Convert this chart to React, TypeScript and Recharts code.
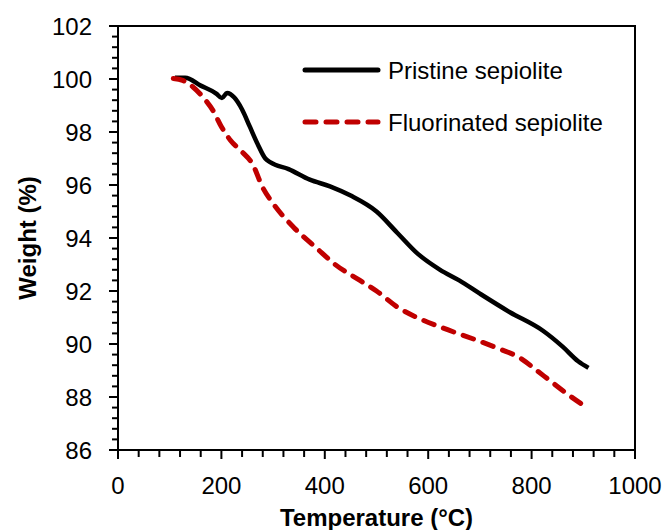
import * as React from 'react';
import { LineChart, Line, XAxis, YAxis, ReferenceArea } from 'recharts';

// TGA curves
const pristineTemp = [110, 130, 160, 190, 201, 211, 225, 240, 255, 270, 285, 295, 330, 371, 410, 450, 500, 540, 580, 623, 660, 700, 758, 822, 860, 890, 910];
const pristineWeight = [100.05, 100.05, 99.75, 99.45, 99.28, 99.47, 99.3, 98.85, 98.2, 97.55, 97.0, 96.85, 96.6, 96.2, 95.95, 95.6, 95.0, 94.2, 93.4, 92.8, 92.4, 91.9, 91.2, 90.5, 89.9, 89.35, 89.1];

const fluoroTemp = [107, 125, 145, 165, 184, 200, 217, 240, 260, 280, 300, 340, 385, 420, 468, 500, 540, 590, 629, 700, 740, 778, 810, 830, 870, 907];
const fluoroWeight = [100.02, 99.95, 99.7, 99.3, 98.8, 98.2, 97.7, 97.25, 96.8, 95.9, 95.3, 94.4, 93.6, 93.0, 92.4, 92.0, 91.4, 90.9, 90.6, 90.1, 89.8, 89.47, 89.0, 88.7, 88.1, 87.6];

const xMajor = [0, 200, 400, 600, 800, 1000];
const yMajor = [86, 88, 90, 92, 94, 96, 98, 100, 102];

const pristine = pristineTemp.map((t, i) => ({ t, w: pristineWeight[i] }));
const fluoro = fluoroTemp.map((t, i) => ({ t, w: fluoroWeight[i] }));

// minor ticks every 40 degC and every 0.4 %
const xTicks: number[] = [];
for (let i = 0; i <= 25; i++) xTicks.push(i * 40);
const yTicks: number[] = [];
for (let i = 0; i <= 40; i++) yTicks.push(Math.round((86 + i * 0.4) * 10) / 10);

const FONT = '"Liberation Sans", Arial, sans-serif';

function XTick(props: any) {
  const { x, y, payload } = props;
  const major = xMajor.includes(payload.value);
  return (
    <g>
      <line x1={x} x2={x} y1={y} y2={y + (major ? 9 : 7)} stroke="#000" strokeWidth={2} />
      {major && (
        <text x={x} y={y + 44} textAnchor="middle" fontSize={24} fontFamily={FONT} fill="#000">
          {payload.value}
        </text>
      )}
    </g>
  );
}

function YTick(props: any) {
  const { x, y, payload } = props;
  const major = yMajor.includes(payload.value);
  return (
    <g>
      <line x1={x - (major ? 9 : 6)} x2={x} y1={y} y2={y} stroke="#000" strokeWidth={2} />
      {major && (
        <text x={x - 26} y={y + 9} textAnchor="end" fontSize={24} fontFamily={FONT} fill="#000">
          {payload.value}
        </text>
      )}
    </g>
  );
}

export default function App() {
  return (
    <div style={{ position: 'absolute', left: 0, top: 0, width: 664, height: 530, background: '#fff' }}>
      <LineChart width={664} height={530} margin={{ top: 26, right: 29, bottom: 0, left: 0 }}>
        <ReferenceArea x1={0} x2={1000} y1={86} y2={102} fill="none" stroke="#000" strokeWidth={2} />
        <XAxis
          dataKey="t"
          type="number"
          domain={[0, 1000]}
          ticks={xTicks}
          interval={0}
          height={80}
          tickSize={0}
          tickMargin={0}
          tickLine={false}
          tick={<XTick />}
          axisLine={{ stroke: '#000', strokeWidth: 2 }}
          allowDuplicatedCategory={false}
          label={{ value: 'Temperature (°C)', position: 'center', dy: 27, fontSize: 24, fontWeight: 'bold', fontFamily: FONT, fill: '#000' }}
        />
        <YAxis
          type="number"
          domain={[86, 102]}
          ticks={yTicks}
          interval={0}
          width={118}
          tickSize={0}
          tickMargin={0}
          tickLine={false}
          tick={<YTick />}
          axisLine={{ stroke: '#000', strokeWidth: 2 }}
          label={{ value: 'Weight (%)', angle: -90, position: 'center', dx: -32, fontSize: 24, fontWeight: 'bold', fontFamily: FONT, fill: '#000' }}
        />
        <Line
          data={pristine}
          dataKey="w"
          type="monotone"
          stroke="#000"
          strokeWidth={4.5}
          dot={false}
          isAnimationActive={false}
        />
        <Line
          data={fluoro}
          dataKey="w"
          type="monotone"
          stroke="#C00000"
          strokeWidth={5}
          strokeDasharray="11 10"
          strokeLinecap="round"
          dot={false}
          isAnimationActive={false}
        />
      </LineChart>
      <svg width={664} height={530} style={{ position: 'absolute', left: 0, top: 0, pointerEvents: 'none' }}>
        <line x1={305} x2={378} y1={70} y2={70} stroke="#000" strokeWidth={5} strokeLinecap="round" />
        <text x={388} y={78.5} fontSize={24} fontFamily={FONT} fill="#000">Pristine sepiolite</text>
        <line x1={305} x2={378} y1={122} y2={122} stroke="#C00000" strokeWidth={5} strokeDasharray="11 10" strokeLinecap="round" />
        <text x={388} y={130.5} fontSize={24} fontFamily={FONT} fill="#000">Fluorinated sepiolite</text>
      </svg>
    </div>
  );
}
